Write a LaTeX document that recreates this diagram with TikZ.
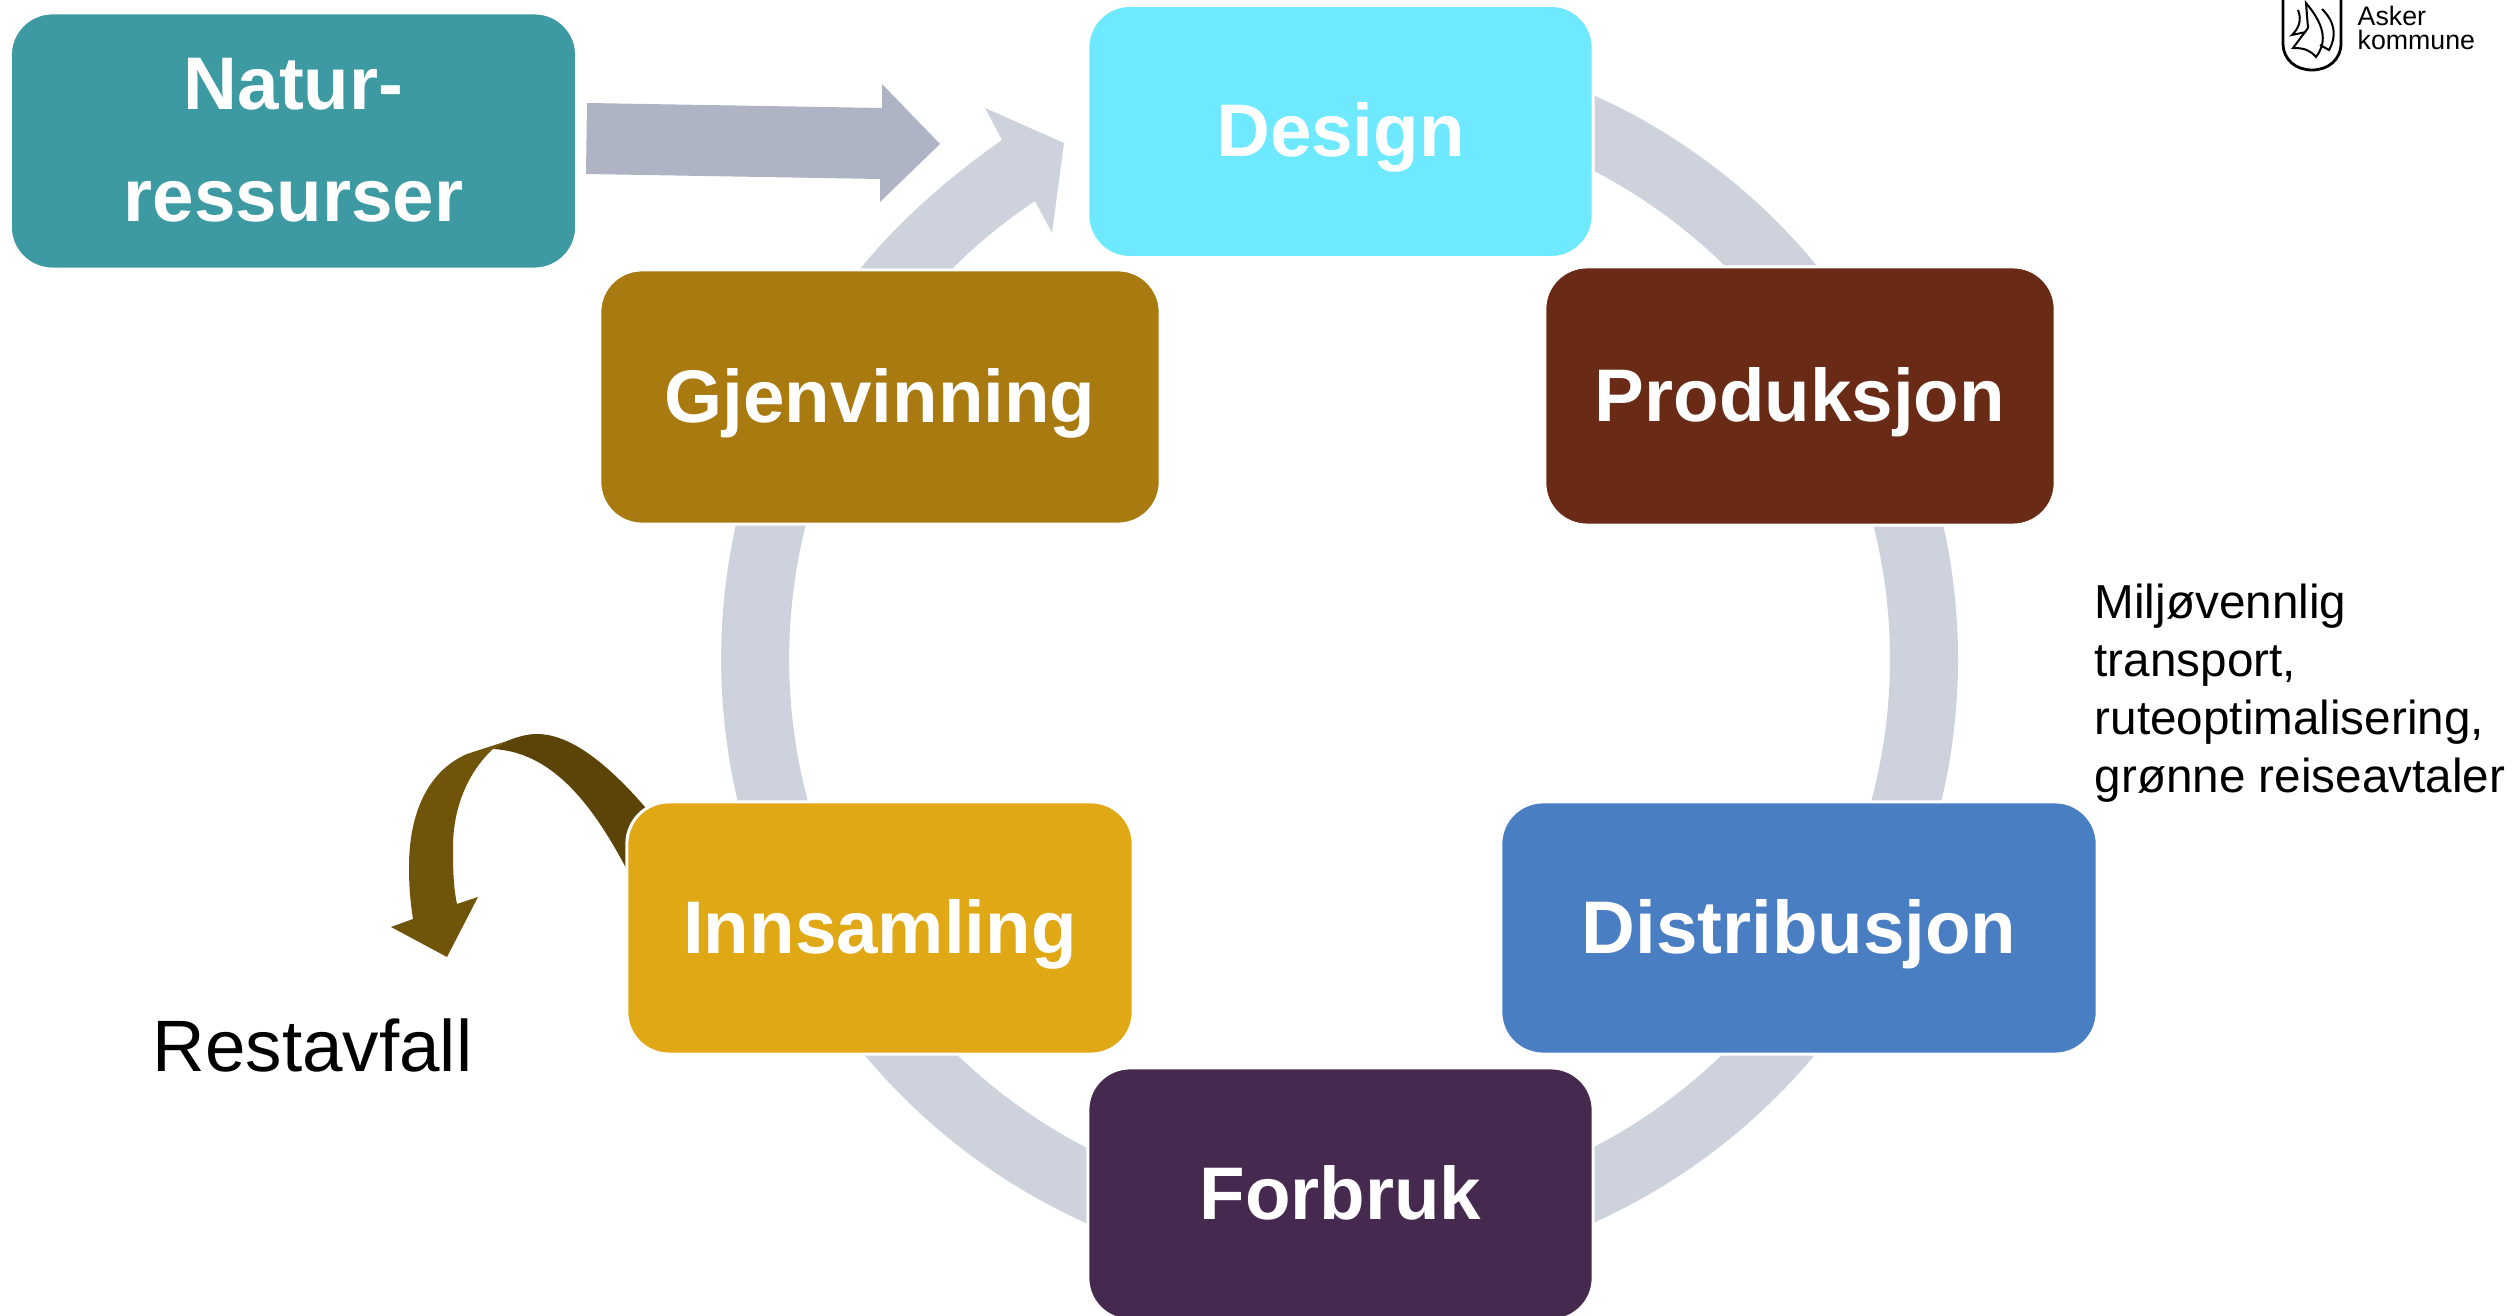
\documentclass[tikz,border=0pt]{standalone}
\usepackage{fontspec}
\setmainfont{Liberation Sans}
\usepackage{tikz}
\usetikzlibrary{positioning}

\definecolor{ringcol}{HTML}{CDD2DC}
\definecolor{inarrowcol}{HTML}{AEB4C3}
\definecolor{wasteback}{HTML}{5C4409}
\definecolor{wastefront}{HTML}{70540A}
\definecolor{naturcol}{HTML}{3D9AA3}
\definecolor{designcol}{HTML}{6EE9FF}
\definecolor{produkcol}{HTML}{692A16}
\definecolor{gjenvcol}{HTML}{A97A0F}
\definecolor{innsamcol}{HTML}{E0A815}
\definecolor{distribcol}{HTML}{4A7EC3}
\definecolor{forbrukcol}{HTML}{46294F}

\tikzset{
    stagebox/.style={rectangle, rounded corners=0.42cm, draw=white, line width=0.03cm,
        text=white, align=center, inner sep=0pt, text height=0.52cm, text depth=0.02cm,
        font=\fontsize{21.2}{32}\selectfont\bfseries},
    plaintext/.style={inner sep=0pt, text=black}
}

\begin{document}
\begin{tikzpicture}[x=0.01cm,y=-0.01cm]
    \useasboundingbox (0,0) rectangle (2514,1316);
    \clip (0,0) rectangle (2514,1316);
    \coordinate (ringc) at (1339.5,659);
    % ring behind the boxes
    \draw[ringcol, line width=0.68cm] (ringc) ++(70:5.84cm) arc[start angle=70, end angle=-215, radius=5.84cm];
    % last part of the ring
    \fill[ringcol] (860,269) .. controls (900,220) and (948,178) .. (1002,140) -- (985,108) -- (1064,143)
        -- (1052,233) -- (1035,201) .. controls (1004,222) and (978,243) .. (952,269) -- cycle;
    \fill[inarrowcol] (587,103) -- (882,108) -- (882,84) -- (940,144) -- (880,202) -- (880,179) -- (586,174) -- cycle;
    % arrow to the residual waste
    \fill[wasteback] (645,807) .. controls (600,755) and (565,734) .. (537,734) .. controls (527,734) and (517,737) .. (507,741)
        -- (493,749) .. controls (550,752) and (590,800) .. (626,868) -- (660,860) -- cycle;
    \fill[wastefront] (467,754) .. controls (430,770) and (409,810) .. (409,867) .. controls (409,885) and (410,900) .. (413,919)
        -- (391,927) -- (447,957) -- (478,897) -- (457,904) .. controls (453,885) and (453,865) .. (453,847)
        .. controls (453,805) and (470,770) .. (493,749) -- (507,741) -- cycle;

    \node[stagebox, fill=naturcol, minimum width=5.66cm, minimum height=2.56cm, text height=1.63cm] (natur) at (293.5,141) {Natur-\\ressurser};
    \node[stagebox, fill=designcol, minimum width=5.05cm, minimum height=2.52cm] (design) at (1340.5,131.5) {Design};
    \node[stagebox, fill=produkcol, minimum width=5.1cm, minimum height=2.58cm] (produksjon) at (1800,396) {Produksjon};
    \node[stagebox, fill=gjenvcol, minimum width=5.6cm, minimum height=2.54cm] (gjenvinning) at (880,397) {Gjenvinning};
    \node[stagebox, fill=innsamcol, minimum width=5.06cm, minimum height=2.52cm] (innsamling) at (880,928) {Innsamling};
    \node[stagebox, fill=distribcol, minimum width=5.96cm, minimum height=2.52cm] (distribusjon) at (1799,928) {Distribusjon};
    \node[stagebox, fill=forbrukcol, minimum width=5.05cm, minimum height=2.52cm] (forbruk) at (1340.5,1194) {Forbruk};

    \node[plaintext, font=\fontsize{20.7}{24}\selectfont] (restavfall) at (312.5,1045) {Restavfall};
    \node[plaintext, anchor=north west, align=left, font=\fontsize{13.55}{16.5}\selectfont] (miljo) at (2094,583)
        {Miljøvennlig\\transport,\\ruteoptimalisering,\\grønne reiseavtaler};

    % logo
    \draw[line width=0.028cm] (2283,-5) -- (2283,43) .. controls (2283,60) and (2296,70) .. (2312,70)
        .. controls (2328,70) and (2341,60) .. (2341,43) -- (2341,-5);
    \draw[line width=0.02cm, line join=miter] (2306,3) .. controls (2322,22) and (2329,40) .. (2316,57)
        .. controls (2310,50) and (2304,48) .. (2293,48) -- (2308,28) -- cycle;
    \draw[line width=0.02cm] (2298,10) .. controls (2302,20) and (2299,28) .. (2292,35) -- (2306,32);
    \draw[line width=0.02cm] (2322,9) .. controls (2335,22) and (2337,36) .. (2329,50) -- (2320,45);
    \node[plaintext, anchor=base west, font=\fontsize{7.6}{9}\selectfont] (asker) at (2357,26) {Asker};
    \node[plaintext, anchor=base west, font=\fontsize{7.6}{9}\selectfont] (kommune) at (2357,50) {kommune};
\end{tikzpicture}
\end{document}
